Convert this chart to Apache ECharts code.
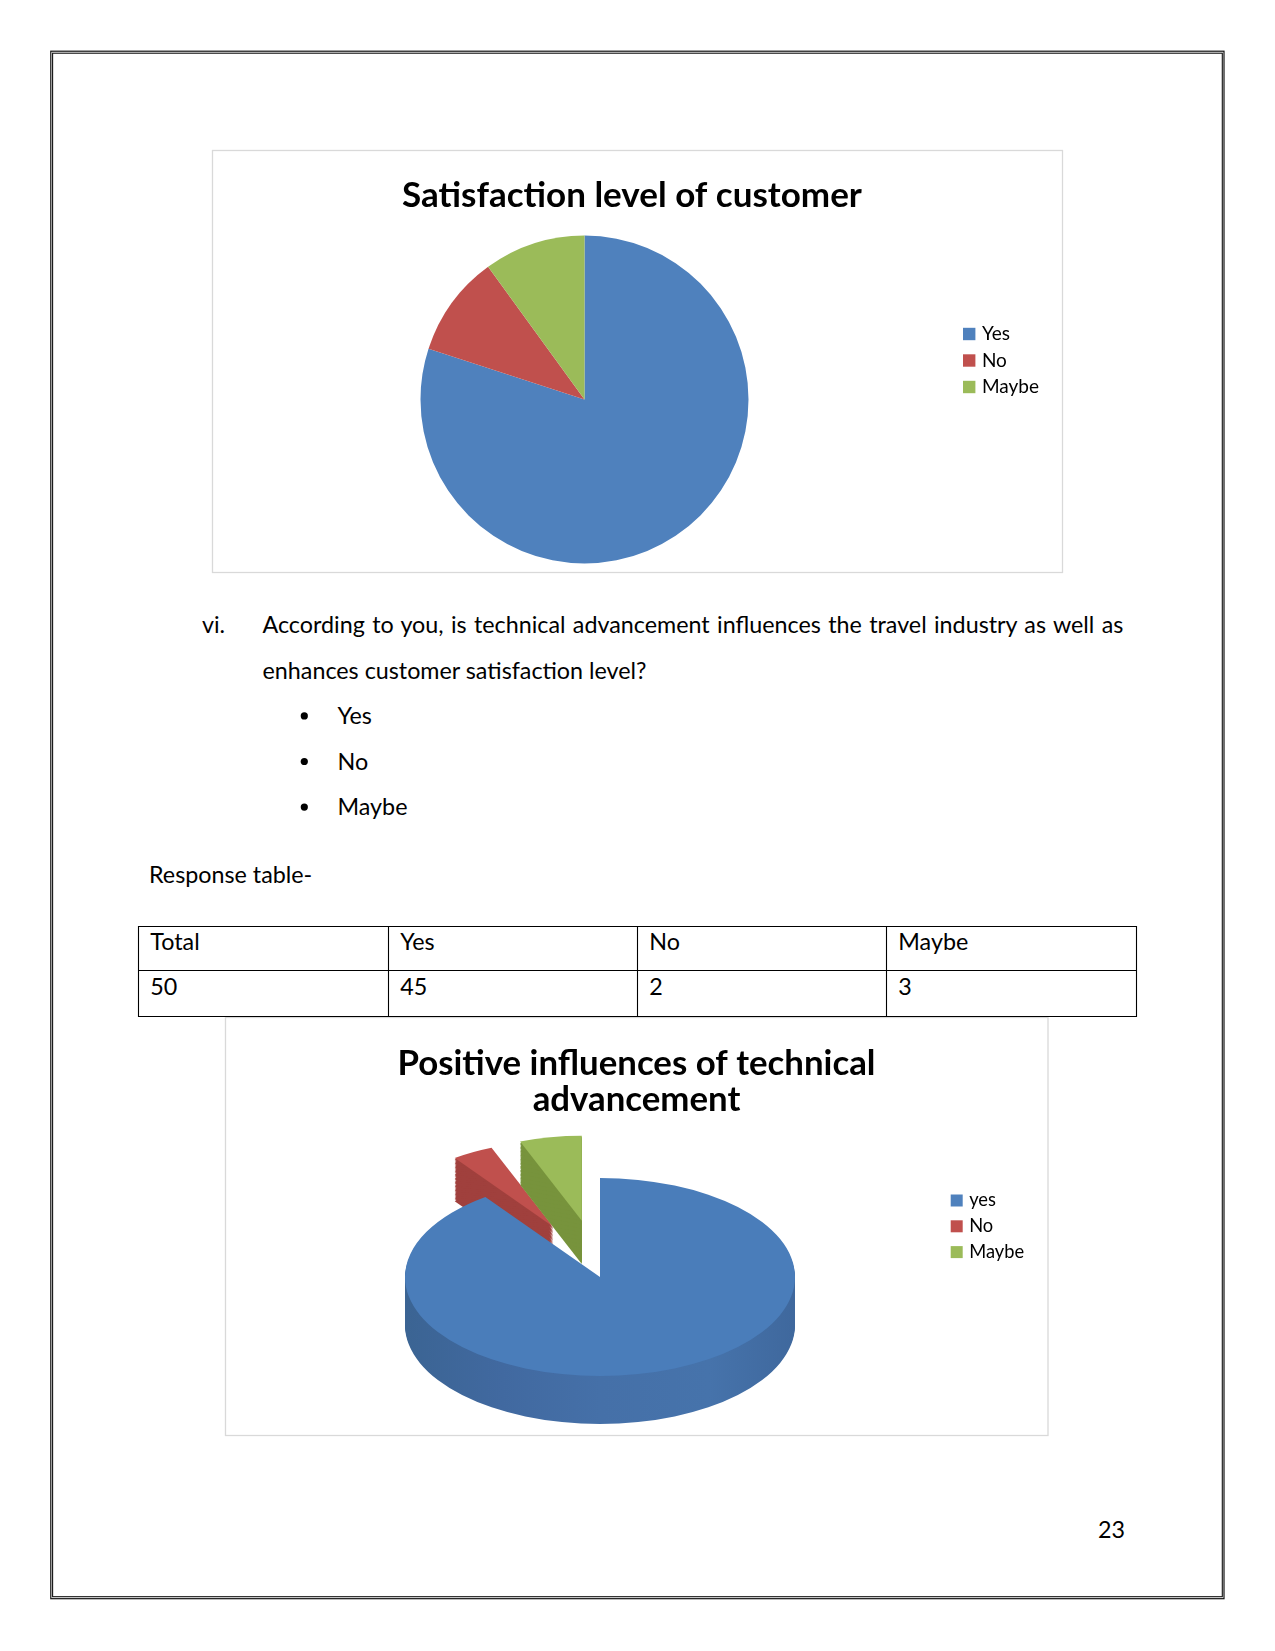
<!DOCTYPE html>
<html>
<head>
<meta charset="utf-8">
<script src="https://cdn.jsdelivr.net/npm/echarts@6/dist/echarts.min.js"></script>
<style>
html,body{margin:0;padding:0;background:#fff;}
#page{position:relative;width:1275px;height:1651px;overflow:hidden;background:#fff;}
#doc{position:absolute;left:0;top:0;}
#c1{position:absolute;left:212px;top:150px;width:851px;height:423px;}
#c2{position:absolute;left:225px;top:1017px;width:823px;height:418px;}
</style>
</head>
<body>
<div id="page">
<svg id="doc" width="1275" height="1651" xmlns="http://www.w3.org/2000/svg"></svg>
<div id="c1"></div>
<div id="c2"></div>
</div>
<script>
// ---------------- data ----------------
const pie1Title = 'Satisfaction level of customer';
const pie1Categories = ['Yes', 'No', 'Maybe'];
const pie1Values = [40, 5, 5];

const questionNumber = 'vi.';
const questionLines = [
  'According to you, is technical advancement influences the travel industry as well as',
  'enhances customer satisfaction level?'
];
const answerOptions = ['Yes', 'No', 'Maybe'];
const tableCaption = 'Response table-';
const tableHeader = ['Total', 'Yes', 'No', 'Maybe'];

const pie2Title = 'Positive influences of technical\nadvancement';
const pie2Categories = ['yes', 'No', 'Maybe'];
const pie2Values = [45, 2, 3];
const pie2Exploded = ['No', 'Maybe'];

const pageNumber = '23';

// table row derived from the response values
const tableRow = [String(pie2Values.reduce((a, b) => a + b, 0))].concat(pie2Values.map(String));

// ---------------- fonts ----------------
const FONT = 'Lato';
const mctx = document.createElement('canvas').getContext('2d');
function fit(text, weight, target) {
  mctx.font = weight + ' 100px ' + FONT;
  return Math.round(1000 * target / mctx.measureText(text).width) / 10;
}
const bodyFs = fit('enhances customer satisfaction level?', 'normal', 385);
const t1Fs = fit(pie1Title, 'bold', 460);
const t2Fs = fit('Positive influences of technical', 'bold', 478);
const l1Fs = fit('Maybe', 'normal', 57);
const l2Fs = fit('Maybe', 'normal', 55);

// ---------------- document (svg) ----------------
const NS = 'http://www.w3.org/2000/svg';
const svg = document.getElementById('doc');
function el(tag, attrs, text) {
  const e = document.createElementNS(NS, tag);
  for (const k in attrs) e.setAttribute(k, attrs[k]);
  if (text != null) e.textContent = text;
  svg.appendChild(e);
  return e;
}
function txt(x, y, s, extra) {
  const a = {x: x, y: y, 'font-family': FONT, 'font-size': bodyFs, fill: '#000'};
  if (extra) for (const k in extra) a[k] = extra[k];
  return el('text', a, s);
}

// page border (double)
el('rect', {x: 50.8, y: 51.2, width: 1173.2, height: 1547.5, fill: 'none', stroke: '#111', 'stroke-width': 1.2});
el('rect', {x: 52.6, y: 53.2, width: 1169.7, height: 1543.5, fill: 'none', stroke: '#111', 'stroke-width': 1.1});

// chart boxes
el('rect', {x: 212.5, y: 150.5, width: 850, height: 422, fill: 'none', stroke: '#d9d9d9', 'stroke-width': 1.3});
el('rect', {x: 225.5, y: 1017.5, width: 822.5, height: 418, fill: 'none', stroke: '#d9d9d9', 'stroke-width': 1.3});

// question
txt(202, 633.3, questionNumber);
mctx.font = 'normal ' + bodyFs + 'px ' + FONT;
const natural = mctx.measureText(questionLines[0]).width;
const nSpaces = (questionLines[0].match(/ /g) || []).length;
const ws = (862.5 - natural) / nSpaces;
txt(262.5, 633.3, questionLines[0], {style: 'word-spacing:' + ws.toFixed(3) + 'px'});
txt(262.5, 678.8, questionLines[1]);

// bullets
const bulletBase = [724.2, 769.8, 815.4];
answerOptions.forEach((o, i) => {
  el('circle', {cx: 304.3, cy: bulletBase[i] - 8.3, r: 3.6, fill: '#000'});
  txt(337.5, bulletBase[i], o);
});

txt(149, 882.6, tableCaption);

// table
const colX = [138.5, 388.5, 637.5, 886.5, 1136.5];
const rowY = [926.5, 970.5, 1016.5];
rowY.forEach(y => el('line', {x1: 138, y1: y, x2: 1137, y2: y, stroke: '#000', 'stroke-width': 1.1}));
colX.forEach(x => el('line', {x1: x, y1: 926, x2: x, y2: 1017, stroke: '#000', 'stroke-width': 1.1}));
tableHeader.forEach((h, i) => txt(colX[i] + 11.8, 950.3, h));
tableRow.forEach((v, i) => txt(colX[i] + 11.8, 995.3, v));

// page number
txt(1125, 1538.3, pageNumber, {'text-anchor': 'end'});

// ---------------- chart 1 ----------------
const colors1 = ['#4f81bd', '#c0504d', '#9bbb59'];
const chart1 = echarts.init(document.getElementById('c1'));
chart1.setOption({
  animation: false,
  title: {
    text: pie1Title, left: 190, top: 26, padding: 0,
    textStyle: {fontFamily: FONT, fontWeight: 'bold', fontSize: t1Fs, lineHeight: 40, color: '#000'}
  },
  legend: {
    orient: 'vertical', left: 751, top: 174, padding: 0,
    itemWidth: 12.4, itemHeight: 12.4, itemGap: 6.5, icon: 'rect', selectedMode: false,
    textStyle: {fontFamily: FONT, fontSize: l1Fs, lineHeight: 20, color: '#000', padding: [0, 0, 0, 1.5]},
    data: pie1Categories
  },
  series: [{
    type: 'pie', center: [372.5, 249.5], radius: 164, startAngle: 90, clockwise: true,
    silent: true, label: {show: false}, labelLine: {show: false}, emphasis: {disabled: true},
    data: pie1Categories.map((n, i) => ({name: n, value: pie1Values[i], itemStyle: {color: colors1[i]}}))
  }]
});

// ---------------- chart 2 (3D-looking pie) ----------------
const legendColors2 = ['#4f81bd', '#c0504d', '#9bbb59'];
const topFills = ['#4a7dba', '#c0504d', '#9bbb59'];
const sideFills = [
  new echarts.graphic.LinearGradient(0, 0, 1, 0, [
    {offset: 0, color: '#3b6493'}, {offset: 0.25, color: '#4169a0'},
    {offset: 0.5, color: '#4570a8'}, {offset: 0.78, color: '#4673ab'}, {offset: 1, color: '#3f689d'}
  ]),
  '#a0403d',
  '#77933c'
];
// cx, cy: centre; rx: radius; sy: tilt (vertical squash); th: thickness;
// explode: pull-out distance; exY: vertical share of pull-out; far: size of pulled slices
const P2 = {cx: 375, cy: 260, rx: 195, sy: 99 / 195, th: 48, explode: 97, exY: 0.59, far: 0.86, farTh: 0.9, layers: 32};

function make3DSlice(i) {
  return function (params, api) {
    const total = pie2Values.reduce((a, b) => a + b, 0);
    let before = 0;
    for (let k = 0; k < i; k++) before += pie2Values[k];
    const a1 = before / total * 2 * Math.PI;
    const a2 = (before + pie2Values[i]) / total * 2 * Math.PI;
    const mid = (a1 + a2) / 2;
    const ex = pie2Exploded.indexOf(pie2Categories[i]) >= 0;
    const d = ex ? P2.explode : 0;
    const s = ex ? P2.far : 1;
    const ox = d * Math.sin(mid);
    const oy = -d * Math.cos(mid) * P2.exY / P2.sy;
    const r = P2.rx * s;
    const depth = P2.th * (ex ? P2.farTh : 1) / P2.sy;
    const sa = a1 - Math.PI / 2, ea = a2 - Math.PI / 2;
    const kids = [];
    for (let L = P2.layers; L >= 1; L--) {
      kids.push({
        type: 'sector',
        shape: {cx: ox, cy: oy + depth * L / P2.layers, r0: 0, r: r, startAngle: sa, endAngle: ea, clockwise: true},
        style: {fill: sideFills[i]}
      });
    }
    kids.push({
      type: 'sector',
      shape: {cx: ox, cy: oy, r0: 0, r: r, startAngle: sa, endAngle: ea, clockwise: true},
      style: {fill: topFills[i]}
    });
    return {type: 'group', x: P2.cx, y: P2.cy, scaleY: P2.sy, children: kids};
  };
}

const chart2 = echarts.init(document.getElementById('c2'));
chart2.setOption({
  animation: false,
  title: {
    text: pie2Title, left: 'center', top: 29, padding: 0,
    textStyle: {fontFamily: FONT, fontWeight: 'bold', fontSize: t2Fs, lineHeight: 36, color: '#000'}
  },
  legend: {
    orient: 'vertical', left: 725.7, top: 173.5, padding: 0,
    itemWidth: 12, itemHeight: 12, itemGap: 5.8, icon: 'rect', selectedMode: false,
    textStyle: {fontFamily: FONT, fontSize: l2Fs, lineHeight: 20, color: '#000', padding: [0, 0, 0, 1.5]},
    data: pie2Categories
  },
  series: pie2Categories.map((name, i) => ({
    type: 'custom', name: name, coordinateSystem: 'none', silent: true,
    z: i === 0 ? 3 : 2,
    itemStyle: {color: legendColors2[i]},
    data: [[pie2Values[i]]],
    renderItem: make3DSlice(i)
  }))
});
</script>
</body>
</html>
